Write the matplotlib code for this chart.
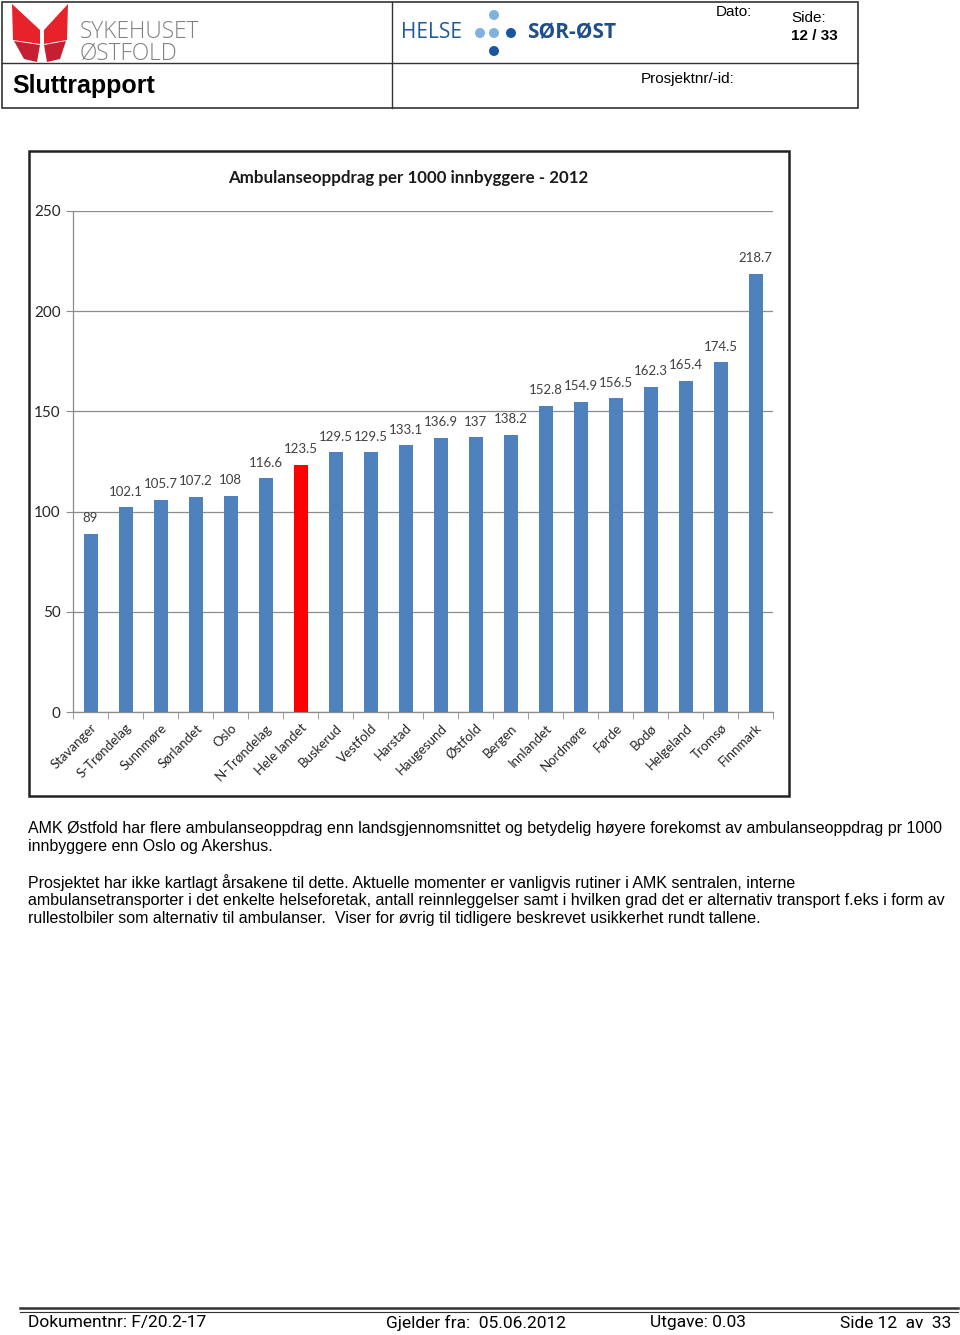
import numpy as np
import matplotlib.pyplot as plt
from matplotlib.patches import Rectangle, Polygon, Circle

regions = ["Stavanger", "S-Trøndelag", "Sunnmøre", "Sørlandet", "Oslo", "N-Trøndelag",
           "Hele landet", "Buskerud", "Vestfold", "Harstad", "Haugesund", "Østfold",
           "Bergen", "Innlandet", "Nordmøre", "Førde", "Bodø", "Helgeland", "Tromsø",
           "Finnmark"]
values = [89, 102.1, 105.7, 107.2, 108, 116.6, 123.5, 129.5, 129.5, 133.1, 136.9, 137,
          138.2, 152.8, 154.9, 156.5, 162.3, 165.4, 174.5, 218.7]
highlight = "Hele landet"
yticks = [0, 50, 100, 150, 200, 250]

chartfont = ["Lato", "DejaVu Sans"]
footfont = ["Roboto", "DejaVu Sans"]
plt.rcParams['font.family'] = ["Liberation Sans", "DejaVu Sans"]

fig = plt.figure(figsize=(9.6, 13.35), dpi=100)

# page overlay in pixel coordinates
bg = fig.add_axes([0, 0, 1, 1])
bg.set_xlim(0, 960)
bg.set_ylim(1335, 0)
bg.axis('off')

# header table
bg.add_patch(Rectangle((2, 2), 856, 106, fill=False, ec="#333333", lw=1.2))
bg.plot([2, 858], [63, 63], color="#333333", lw=1.0)
bg.plot([392, 392], [2, 108], color="#333333", lw=1.0)

# butterfly logo
bg.add_patch(Polygon([(12, 4), (40, 30), (40, 44), (13, 40)], color="#E8222B", lw=0))
bg.add_patch(Polygon([(14, 41), (40, 45), (37, 62), (24, 59)], color="#C81E32", lw=0))
bg.add_patch(Polygon([(68, 4), (44, 30), (44, 44), (67, 40)], color="#E8222B", lw=0))
bg.add_patch(Polygon([(66, 41), (44, 45), (47, 62), (60, 59)], color="#C81E32", lw=0))
bg.text(80, 32, "SYKEHUSET", fontsize=16.4, color="#808080", va='center', ha='left',
        fontweight='light', family=["Open Sans", "DejaVu Sans"])
bg.text(80, 54, "ØSTFOLD", fontsize=16.4, color="#808080", va='center', ha='left',
        fontweight='light', family=["Open Sans", "DejaVu Sans"])
bg.text(12, 86, "Sluttrapport", fontsize=18, fontweight='bold', va='center', ha='left')

# Helse Sør-Øst logo
bg.text(401, 33, "HELSE", fontsize=15, color="#1F5A9E", va='center', ha='left',
        family=["Open Sans", "DejaVu Sans"])
for cx, cy, c in [(494, 15, "#7FB2E0"), (480, 33, "#7FB2E0"), (494, 33, "#7FB2E0"),
                  (511, 33, "#1A56A0"), (494, 51, "#1A56A0")]:
    bg.add_patch(Circle((cx, cy), 5, color=c, lw=0))
bg.text(527, 33, "SØR-ØST", fontsize=15, color="#1F4E8C", va='center', ha='left',
        fontweight='bold', family=["Open Sans", "DejaVu Sans"])

bg.text(716, 12, "Dato:", fontsize=11, va='center', ha='left')
bg.text(791, 18, "Side:", fontsize=11, va='center', ha='left')
bg.text(791, 36, "12 / 33", fontsize=11, fontweight='bold', va='center', ha='left')
bg.text(641, 79, "Prosjektnr/-id:", fontsize=11, va='center', ha='left')

# chart frame
bg.add_patch(Rectangle((29, 151), 760, 645, fill=False, ec="#222222", lw=1.8))
bg.text(408, 178, "Ambulanseoppdrag per 1000 innbyggere - 2012", fontsize=12.2,
        fontweight='bold', family=chartfont, va='center', ha='center', color="#1a1a1a")

# body text
body = [
    (828, "AMK Østfold har flere ambulanseoppdrag enn landsgjennomsnittet og betydelig høyere forekomst av ambulanseoppdrag pr 1000"),
    (847, "innbyggere enn Oslo og Akershus."),
    (883, "Prosjektet har ikke kartlagt årsakene til dette. Aktuelle momenter er vanligvis rutiner i AMK sentralen, interne"),
    (901, "ambulansetransporter i det enkelte helseforetak, antall reinnleggelser samt i hvilken grad det er alternativ transport f.eks i form av"),
    (919, "rullestolbiler som alternativ til ambulanser.  Viser for øvrig til tidligere beskrevet usikkerhet rundt tallene."),
]
for y, line in body:
    bg.text(28, y, line, fontsize=11.5, va='center', ha='left')

# footer
bg.plot([20, 958], [1308, 1308], color="#333333", lw=1.8)
bg.plot([20, 958], [1312, 1312], color="#333333", lw=0.8)
bg.text(28, 1323, "Dokumentnr: F/20.2-17", fontsize=12.5, family=footfont, va='center', ha='left')
bg.text(386, 1323, "Gjelder fra:  05.06.2012", fontsize=12.5, family=footfont, va='center', ha='left')
bg.text(650, 1323, "Utgave: 0.03", fontsize=12.5, family=footfont, va='center', ha='left')
bg.text(951, 1323, "Side 12  av  33", fontsize=12.5, family=footfont, va='center', ha='right')

# bar chart
ax = fig.add_axes([73 / 960, 1 - 712 / 1335, 700 / 960, 501 / 1335])
x = np.arange(len(regions))
colors = ["#FF0000" if r == highlight else "#4F81BD" for r in regions]
ax.bar(x, values, width=0.4, color=colors, zorder=3)
for xi, v in zip(x, values):
    ax.annotate(f"{v:g}", (xi, v), xytext=(0, 7), textcoords='offset points',
                ha='center', va='bottom', fontsize=9.5, family=chartfont, color="#404040")

ax.set_xlim(-0.5, len(regions) - 0.5)
ax.set_ylim(0, 250)
ax.set_yticks(yticks)
ax.set_yticklabels([str(t) for t in yticks], family=chartfont, fontsize=11, color="#262626")
ax.yaxis.grid(True, color="#8C8C8C", lw=0.9, zorder=0)
ax.set_xticks(x)
ax.set_xticklabels(regions, rotation=45, ha='right', rotation_mode='anchor',
                   family=chartfont, fontsize=9.5, color="#262626")
ax.set_xticks(np.arange(-0.5, len(regions)), minor=True)
ax.tick_params(axis='x', which='major', length=0, pad=7)
ax.tick_params(axis='x', which='minor', length=5, color="#8C8C8C", direction='out')
ax.tick_params(axis='y', length=5, color="#8C8C8C", pad=4)
for s in ['top', 'right']:
    ax.spines[s].set_visible(False)
for s in ['left', 'bottom']:
    ax.spines[s].set_color("#8C8C8C")
    ax.spines[s].set_linewidth(0.9)
ax.patch.set_alpha(0)

fig.savefig("out.png", dpi=100)
